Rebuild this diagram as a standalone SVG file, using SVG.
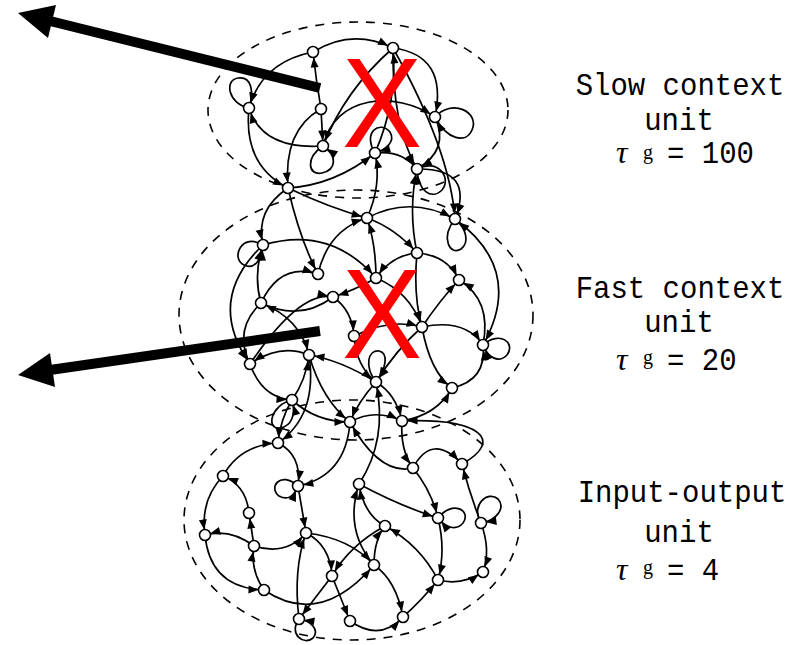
<svg xmlns="http://www.w3.org/2000/svg" width="806" height="645" viewBox="0 0 806 645">
<style>
.bnd{fill:none;stroke:#000;stroke-width:1.6;stroke-dasharray:9 8}
.e path{fill:none;stroke:#000;stroke-width:1.7;marker-end:url(#ah)}
.n{fill:#fff;stroke:#000;stroke-width:1.6}
.lbl{font-family:"Liberation Mono","DejaVu Sans Mono",monospace;font-size:29px;fill:#000}
.tau{font-family:"Liberation Serif",serif;font-style:italic;font-size:32px}
.sup{font-family:"Liberation Serif",serif;font-size:20px}
.x{font-family:"Liberation Sans",Arial,sans-serif;font-size:128px;fill:#f00}
</style>
<defs>
<marker id="ah" markerWidth="12" markerHeight="9" refX="15.5" refY="4" orient="auto" markerUnits="userSpaceOnUse" overflow="visible"><path d="M0,0 L10,4 L0,8 z" fill="#000"/></marker>
</defs>
<rect width="806" height="645" fill="#fff"/>
<g id="boundaries">
<ellipse class="bnd" cx="358" cy="110" rx="150" ry="88"/>
<ellipse class="bnd" cx="356" cy="315" rx="177" ry="125"/>
<ellipse class="bnd" cx="352" cy="520" rx="168" ry="120"/>
</g>
<g id="connectors" class="e">
<path d="M313,52 Q352,28 393,48"/>
<path d="M393,48 Q448,55 435,117"/>
<path d="M435,117 C452,98 480,112 472,130 C466,144 447,140 435,117"/>
<path d="M313,52 Q262,62 249,108"/>
<path d="M249,108 C228,104 224,80 238,78 C252,76 254,92 249,108"/>
<path d="M321,109 Q316,80 313,52"/>
<path d="M321,109 L323,146"/>
<path d="M323,146 Q262,150 249,108"/>
<path d="M323,146 C305,158 308,176 322,173 C336,170 338,156 323,146"/>
<path d="M393,48 Q345,90 323,146"/>
<path d="M375,153 Q398,100 393,48"/>
<path d="M375,153 Q402,150 417,169"/>
<path d="M417,169 C438,158 452,178 442,190 C432,200 418,192 417,169"/>
<path d="M288,188 Q335,185 375,153"/>
<path d="M288,188 Q330,208 367,218"/>
<path d="M321,109 Q283,130 288,188"/>
<path d="M249,108 Q243,165 288,188"/>
<path d="M417,253 Q408,210 417,169"/>
<path d="M393,48 Q450,150 455,219"/>
<path d="M375,153 C362,132 380,120 390,132 C396,142 385,150 375,153"/>
<path d="M393,48 Q392,125 417,169"/>
<path d="M417,169 Q475,168 455,219"/>
<path d="M288,188 Q300,240 318,274"/>
<path d="M323,146 C335,95 395,90 435,117"/>
<path d="M435,117 Q450,150 417,169"/>
<path d="M367,218 Q382,185 375,153"/>
<path d="M288,188 Q255,210 263,245"/>
<path d="M367,218 Q395,228 417,253"/>
<path d="M455,219 C440,238 450,256 461,249 C470,242 466,228 455,219"/>
<path d="M417,253 Q447,255 459,280"/>
<path d="M417,253 Q413,295 422,327"/>
<path d="M417,253 Q392,255 376,278"/>
<path d="M318,274 Q328,230 367,218"/>
<path d="M263,245 Q330,225 376,278"/>
<path d="M263,245 C242,232 230,258 244,265 C254,270 262,260 263,245"/>
<path d="M261,303 Q253,275 263,245"/>
<path d="M333,297 Q300,322 261,303"/>
<path d="M261,303 Q280,262 318,274"/>
<path d="M250,364 Q300,290 333,297"/>
<path d="M333,297 Q352,310 354,336"/>
<path d="M376,278 Q355,290 333,297"/>
<path d="M376,278 Q410,292 422,327"/>
<path d="M422,327 Q440,300 459,280"/>
<path d="M483,345 Q492,300 459,280"/>
<path d="M483,345 C500,330 516,343 507,355 C498,364 488,357 483,345"/>
<path d="M422,327 Q465,318 483,345"/>
<path d="M354,336 Q390,318 422,327"/>
<path d="M452,388 Q487,380 483,345"/>
<path d="M422,327 Q430,372 452,388"/>
<path d="M402,421 Q437,415 452,388"/>
<path d="M261,303 Q233,330 250,364"/>
<path d="M309,355 Q280,343 250,364"/>
<path d="M263,245 Q205,300 250,364"/>
<path d="M250,364 Q262,398 292,400"/>
<path d="M292,400 C270,405 266,430 280,428 C292,426 296,414 292,400"/>
<path d="M376,382 Q340,360 309,355"/>
<path d="M292,400 Q306,380 309,355"/>
<path d="M309,355 Q322,400 350,422"/>
<path d="M354,336 Q356,366 376,382"/>
<path d="M376,382 C364,366 368,350 379,351 C389,353 386,369 376,382"/>
<path d="M376,382 Q396,394 402,421"/>
<path d="M359,484 Q388,440 376,382"/>
<path d="M376,278 Q376,245 367,218"/>
<path d="M422,327 Q396,350 376,382"/>
<path d="M455,219 Q525,270 483,345"/>
<path d="M462,464 C505,440 480,418 402,421"/>
<path d="M367,218 Q410,195 455,219"/>
<path d="M261,303 Q300,318 309,355"/>
<path d="M292,400 Q316,422 350,422"/>
<path d="M350,422 Q375,408 402,421"/>
<path d="M376,382 Q358,402 350,422"/>
<path d="M309,355 Q318,415 278,443"/>
<path d="M278,443 Q302,455 298,486"/>
<path d="M298,486 C280,470 268,488 279,496 C288,501 294,496 298,486"/>
<path d="M350,422 Q346,476 298,486"/>
<path d="M223,476 Q240,445 278,443"/>
<path d="M223,476 Q200,500 205,535"/>
<path d="M249,513 Q246,485 223,476"/>
<path d="M254,546 L249,513"/>
<path d="M254,546 Q230,528 205,535"/>
<path d="M254,546 Q286,556 306,533"/>
<path d="M205,535 Q210,588 264,590"/>
<path d="M264,590 Q250,570 254,546"/>
<path d="M298,486 L306,533"/>
<path d="M306,533 Q330,545 332,576"/>
<path d="M306,533 Q350,538 374,565"/>
<path d="M332,576 L299,619"/>
<path d="M332,576 L350,621"/>
<path d="M299,619 Q293,570 306,533"/>
<path d="M299,619 C288,634 304,646 313,638 C320,630 311,621 299,619"/>
<path d="M264,590 Q320,628 374,565"/>
<path d="M350,621 Q380,642 403,617"/>
<path d="M403,617 Q422,600 438,580"/>
<path d="M374,565 Q396,580 403,617"/>
<path d="M374,565 Q374,540 385,526"/>
<path d="M438,580 Q420,545 385,526"/>
<path d="M438,580 Q462,586 483,572"/>
<path d="M481,523 Q491,550 483,572"/>
<path d="M481,523 C470,505 488,490 498,499 C506,508 496,521 481,523"/>
<path d="M481,523 Q470,495 462,464"/>
<path d="M438,518 Q446,550 438,580"/>
<path d="M438,518 C452,500 472,510 463,523 C456,531 446,528 438,518"/>
<path d="M413,468 Q431,490 438,518"/>
<path d="M359,484 Q400,506 438,518"/>
<path d="M402,421 Q400,450 413,468"/>
<path d="M413,468 Q380,476 350,422"/>
<path d="M413,468 Q432,432 462,464"/>
<path d="M385,526 Q364,515 359,484"/>
<path d="M374,565 Q344,530 359,484"/>
<path d="M292,400 Q280,420 278,443"/>
<path d="M385,526 Q350,545 332,576"/>
</g>
<g id="s1"><circle class="n" cx="313" cy="52" r="5.5"/></g>
<g id="s2"><circle class="n" cx="393" cy="48" r="5.5"/></g>
<g id="s3"><circle class="n" cx="249" cy="108" r="5.5"/></g>
<g id="s4"><circle class="n" cx="321" cy="109" r="5.5"/></g>
<g id="s5"><circle class="n" cx="435" cy="117" r="5.5"/></g>
<g id="s6"><circle class="n" cx="323" cy="146" r="5.5"/></g>
<g id="s7"><circle class="n" cx="375" cy="153" r="5.5"/></g>
<g id="s8"><circle class="n" cx="417" cy="169" r="5.5"/></g>
<g id="s9"><circle class="n" cx="288" cy="188" r="5.5"/></g>
<g id="f1"><circle class="n" cx="367" cy="218" r="5.5"/></g>
<g id="f2"><circle class="n" cx="455" cy="219" r="5.5"/></g>
<g id="f3"><circle class="n" cx="263" cy="245" r="5.5"/></g>
<g id="f4"><circle class="n" cx="417" cy="253" r="5.5"/></g>
<g id="f5"><circle class="n" cx="318" cy="274" r="5.5"/></g>
<g id="f6"><circle class="n" cx="376" cy="278" r="5.5"/></g>
<g id="f7"><circle class="n" cx="459" cy="280" r="5.5"/></g>
<g id="f8"><circle class="n" cx="333" cy="297" r="5.5"/></g>
<g id="f9"><circle class="n" cx="261" cy="303" r="5.5"/></g>
<g id="f10"><circle class="n" cx="422" cy="327" r="5.5"/></g>
<g id="f11"><circle class="n" cx="354" cy="336" r="5.5"/></g>
<g id="f12"><circle class="n" cx="483" cy="345" r="5.5"/></g>
<g id="f13"><circle class="n" cx="250" cy="364" r="5.5"/></g>
<g id="f14"><circle class="n" cx="309" cy="355" r="5.5"/></g>
<g id="f15"><circle class="n" cx="376" cy="382" r="5.5"/></g>
<g id="f16"><circle class="n" cx="452" cy="388" r="5.5"/></g>
<g id="f17"><circle class="n" cx="292" cy="400" r="5.5"/></g>
<g id="f18"><circle class="n" cx="350" cy="422" r="5.5"/></g>
<g id="f19"><circle class="n" cx="402" cy="421" r="5.5"/></g>
<g id="b1"><circle class="n" cx="278" cy="443" r="5.5"/></g>
<g id="b2"><circle class="n" cx="413" cy="468" r="5.5"/></g>
<g id="b3"><circle class="n" cx="462" cy="464" r="5.5"/></g>
<g id="b4"><circle class="n" cx="223" cy="476" r="5.5"/></g>
<g id="b5"><circle class="n" cx="298" cy="486" r="5.5"/></g>
<g id="b6"><circle class="n" cx="359" cy="484" r="5.5"/></g>
<g id="b7"><circle class="n" cx="249" cy="513" r="5.5"/></g>
<g id="b8"><circle class="n" cx="205" cy="535" r="5.5"/></g>
<g id="b9"><circle class="n" cx="254" cy="546" r="5.5"/></g>
<g id="b10"><circle class="n" cx="306" cy="533" r="5.5"/></g>
<g id="b11"><circle class="n" cx="385" cy="526" r="5.5"/></g>
<g id="b12"><circle class="n" cx="438" cy="518" r="5.5"/></g>
<g id="b13"><circle class="n" cx="481" cy="523" r="5.5"/></g>
<g id="b14"><circle class="n" cx="332" cy="576" r="5.5"/></g>
<g id="b15"><circle class="n" cx="374" cy="565" r="5.5"/></g>
<g id="b16"><circle class="n" cx="438" cy="580" r="5.5"/></g>
<g id="b17"><circle class="n" cx="483" cy="572" r="5.5"/></g>
<g id="b18"><circle class="n" cx="264" cy="590" r="5.5"/></g>
<g id="b19"><circle class="n" cx="299" cy="619" r="5.5"/></g>
<g id="b20"><circle class="n" cx="350" cy="621" r="5.5"/></g>
<g id="b21"><circle class="n" cx="403" cy="617" r="5.5"/></g>
<g id="big-arrows">
<line x1="320" y1="88" x2="50" y2="21" stroke="#000" stroke-width="10"/>
<polygon points="18,13 56,5 48,38" fill="#000"/>
<line x1="320" y1="331" x2="50" y2="370" stroke="#000" stroke-width="10"/>
<polygon points="18,375 50,353 55,387" fill="#000"/>
</g>
<g id="marks">
<text class="x" x="382" y="147" text-anchor="middle" textLength="80" lengthAdjust="spacingAndGlyphs">X</text>
<text class="x" x="382" y="358" text-anchor="middle" textLength="80" lengthAdjust="spacingAndGlyphs">X</text>
</g>
<g id="labels">
<text class="lbl" transform="translate(680,95) scale(1,1.1)" text-anchor="middle">Slow context</text>
<text class="lbl" transform="translate(679,130) scale(1,1.1)" text-anchor="middle">unit</text>
<text class="tau" x="616" y="163">τ</text><text class="sup" x="643" y="159">g</text>
<text class="lbl" transform="translate(667,163) scale(1,1.1)">= 100</text>
<text class="lbl" transform="translate(680,298) scale(1,1.1)" text-anchor="middle">Fast context</text>
<text class="lbl" transform="translate(679,332) scale(1,1.1)" text-anchor="middle">unit</text>
<text class="tau" x="616" y="370">τ</text><text class="sup" x="643" y="364">g</text>
<text class="lbl" transform="translate(667,370) scale(1,1.1)">= 20</text>
<text class="lbl" transform="translate(682,502) scale(1,1.1)" text-anchor="middle">Input-output</text>
<text class="lbl" transform="translate(679,542) scale(1,1.1)" text-anchor="middle">unit</text>
<text class="tau" x="616" y="580">τ</text><text class="sup" x="643" y="574">g</text>
<text class="lbl" transform="translate(667,580) scale(1,1.1)">= 4</text>
</g>
</svg>
